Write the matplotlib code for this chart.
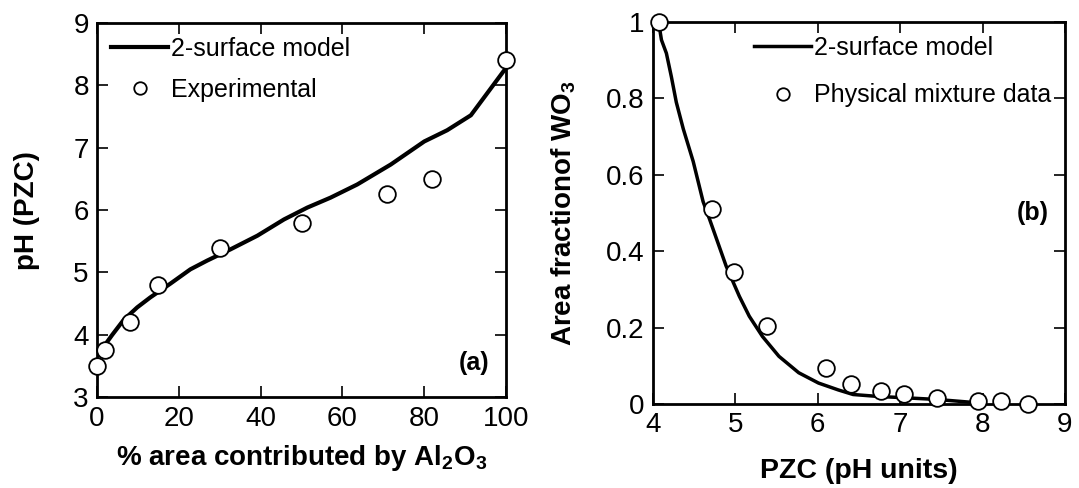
import numpy as np
import matplotlib.pyplot as plt

plt.rcParams['font.family'] = ['Liberation Sans', 'DejaVu Sans']
plt.rcParams['mathtext.default'] = 'regular'

# panel (a): pH(PZC) vs % area of Al2O3
a_model_x = [0.4, 1.6, 3.7, 6.5, 9.8, 13.0, 17.9, 22.8, 26.9, 32.6, 39.2, 45.7, 51.4, 57.1, 63.6,
             71.8, 80, 85.6, 91.4, 100]
a_model_y = [3.68, 3.81, 4.0, 4.24, 4.44, 4.6, 4.82, 5.05, 5.19, 5.37, 5.59, 5.85, 6.04, 6.20, 6.41,
             6.73, 7.1, 7.28, 7.52, 8.28]
a_exp_x = [0, 2, 8, 15, 30, 50, 71, 82, 100]
a_exp_y = [3.5, 3.75, 4.2, 4.8, 5.4, 5.8, 6.25, 6.5, 8.4]

# panel (b): area fraction of WO3 vs PZC
b_model_x = [4.07, 4.105, 4.165, 4.225, 4.285, 4.37, 4.49, 4.61, 4.69, 4.79, 4.89, 5.05, 5.17, 5.33,
             5.53, 5.77, 6.01, 6.25, 6.43, 6.73, 7.1, 7.45, 7.9]
b_model_y = [1.0, 0.953, 0.918, 0.857, 0.79, 0.72, 0.635, 0.53, 0.483, 0.422, 0.361, 0.282, 0.23, 0.177,
             0.125, 0.082, 0.055, 0.037, 0.025, 0.02, 0.016, 0.012, 0.004]
b_exp_x = [4.08, 4.72, 4.98, 5.38, 6.1, 6.4, 6.77, 7.05, 7.45, 7.95, 8.22, 8.55]
b_exp_y = [1.0, 0.51, 0.345, 0.205, 0.095, 0.053, 0.035, 0.027, 0.015, 0.008, 0.007, 0.0]

fig = plt.figure(figsize=(10.79, 4.88), dpi=100)
ax1 = fig.add_axes([0.090, 0.186, 0.379, 0.767])
ax2 = fig.add_axes([0.605, 0.172, 0.382, 0.783])

mk = dict(marker='o', ms=12, mfc='white', mec='black', mew=1.3, ls='none')

for ax in (ax1, ax2):
    ax.tick_params(direction='in', length=8, width=1.2, labelsize=20,
                   top=True, right=True, pad=6)
    for s in ax.spines.values():
        s.set_linewidth(2)

ax1.plot(a_model_x, a_model_y, color='black', lw=3, label='2-surface model')
ax1.plot(a_exp_x, a_exp_y, clip_on=False, zorder=5, label='Experimental', **mk)
ax1.set_xlim(0, 100)
ax1.set_ylim(3, 9)
ax1.set_xticks([0, 20, 40, 60, 80, 100])
ax1.set_yticks([3, 4, 5, 6, 7, 8, 9])
ax1.set_xlabel('% area contributed by Al$_2$O$_3$', fontsize=20, fontweight='bold', labelpad=8)
ax1.set_ylabel('pH (PZC)', fontsize=20, fontweight='bold', labelpad=24)
ax1.text(0.96, 0.06, '(a)', transform=ax1.transAxes, fontsize=18, fontweight='bold', ha='right', va='bottom')
ax1.legend(loc='upper left', frameon=False, fontsize=18, handlelength=2.3,
           handletextpad=0.1, markerscale=0.75, borderaxespad=0.15, labelspacing=0.7)

ax2.plot(b_model_x, b_model_y, color='black', lw=2.5, label='2-surface model')
ax2.plot(b_exp_x, b_exp_y, clip_on=False, zorder=5, label='Physical mixture data', **mk)
ax2.set_xlim(4, 9)
ax2.set_ylim(0, 1)
ax2.set_xticks([4, 5, 6, 7, 8, 9])
ax2.set_yticks([0, 0.2, 0.4, 0.6, 0.8, 1])
ax2.set_yticklabels(['0', '0.2', '0.4', '0.6', '0.8', '1'])
ax2.set_xlabel('PZC (pH units)', fontsize=20.5, fontweight='bold', labelpad=14)
ax2.set_ylabel('Area fractionof WO$_3$', fontsize=20, fontweight='bold', labelpad=20)
ax2.text(0.96, 0.5, '(b)', transform=ax2.transAxes, fontsize=18, fontweight='bold', ha='right', va='center')
ax2.legend(loc='upper right', frameon=False, fontsize=18, handlelength=2.3,
           handletextpad=0.1, markerscale=0.75, borderaxespad=0.15, labelspacing=0.95)

fig.savefig('out.png', dpi=100)
